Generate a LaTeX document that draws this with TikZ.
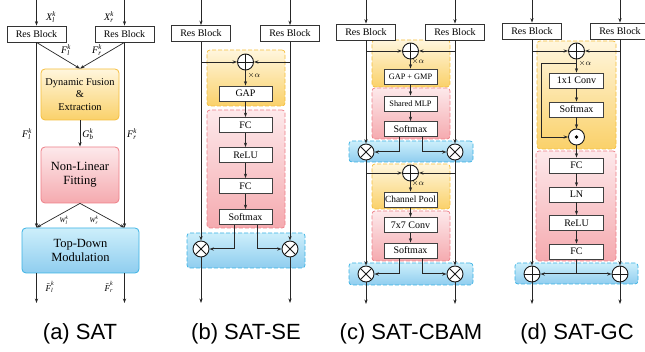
\documentclass[tikz,border=0pt]{standalone}
\usepackage{amsmath}
\usepackage{fontspec}
\setmainfont{Liberation Serif}
\newfontfamily\capfont{Liberation Sans}
\usetikzlibrary{arrows.meta}
\definecolor{yelB}{HTML}{F5BE3C}
\definecolor{yelT}{HTML}{FFF6DD}
\definecolor{yelD}{HTML}{FAD16A}
\definecolor{redB}{HTML}{EE7F88}
\definecolor{redT}{HTML}{FDE9EB}
\definecolor{redD}{HTML}{F5AAAF}
\definecolor{bluB}{HTML}{3AB2E4}
\definecolor{bluT}{HTML}{CDEFFB}
\definecolor{bluD}{HTML}{8FCDEF}
\newcommand\mv[3]{$\textit{#1}^{\textit{#3}}_{\textit{#2}}$}
\newcommand\mvt[3]{$\tilde{\textit{#1}}^{\textit{#3}}_{\textit{#2}}$}
\begin{document}
\begin{tikzpicture}[x=1pt,y=-1pt,
  ln/.style={line width=0.7pt, draw=black!85},
  arr/.style={ln, -{Stealth[length=4.5pt,width=3.2pt]}},
  resb/.style={draw=black!80, line width=0.8pt, fill=white, minimum width=59pt, minimum height=16pt, inner sep=0pt, font=\fontsize{10}{10}\selectfont},
  ib/.style={draw=black!75, line width=0.8pt, fill=white, minimum width=53pt, minimum height=15pt, inner sep=0pt, font=\fontsize{10}{10}\selectfont},
  bgbox/.style={rounded corners=3pt, line width=0.7pt, dash pattern=on 4pt off 2pt, inner sep=0pt},
  sy/.style={bgbox, draw=yelB, top color=yelT, bottom color=yelD},
  sr/.style={bgbox, draw=redB, top color=redT, bottom color=redD},
  sb/.style={bgbox, draw=bluB, top color=bluT, bottom color=bluD},
  abox/.style={rounded corners=4pt, line width=0.8pt, inner sep=0pt, align=center},
  lab/.style={inner sep=0pt, font=\fontsize{10}{10}\selectfont},
  slab/.style={inner sep=0pt, font=\fontsize{7}{7}\selectfont},
  alab/.style={inner sep=0pt, font=\fontsize{9}{9}\selectfont},
  opbase/.style={circle, draw=black!90, line width=0.9pt, fill=white, minimum size=16pt, inner sep=0pt},
  oplus/.style={opbase, path picture={\draw[line width=0.9pt] (path picture bounding box.north) -- (path picture bounding box.south) (path picture bounding box.west) -- (path picture bounding box.east);}},
  otimes/.style={opbase, path picture={\draw[line width=0.9pt] (path picture bounding box.north west) -- (path picture bounding box.south east) (path picture bounding box.south west) -- (path picture bounding box.north east);}},
  odot/.style={opbase, path picture={\fill[black] (path picture bounding box.center) circle (1.8pt);}},
  capt/.style={inner sep=0pt, anchor=base, font=\capfont\fontsize{22}{22}\selectfont}
]
\useasboundingbox (0,0) rectangle (645,352);
\clip (0,0) rectangle (645,352);

% ================= (a) SAT =================
\coordinate (ainl) at (36.5,0);
\coordinate (ainr) at (124.5,0);
\node[resb] (aresl) at (36.5,34) {Res Block};
\node[resb] (aresr) at (124.5,34) {Res Block};
\node[abox, draw=yelB, top color=yelT, bottom color=yelD, minimum width=78pt, minimum height=51pt, font=\fontsize{10.4}{12.5}\selectfont] (adfe) at (80,94.5) {Dynamic Fusion\\\&\\Extraction};
\node[abox, draw=redB, top color=redT, bottom color=redD, minimum width=78pt, minimum height=56pt, font=\fontsize{12.5}{14}\selectfont] (anlf) at (80,175) {Non-Linear\\Fitting};
\node[abox, draw=bluB, top color=bluT, bottom color=bluD, minimum width=117pt, minimum height=45pt, font=\fontsize{12.5}{14}\selectfont] (atd) at (80.5,250.5) {Top-Down\\Modulation};
\coordinate (aoutl) at (36.5,303);
\coordinate (aoutr) at (124.5,303);
\draw[arr] (ainl) -- (aresl);
\draw[arr] (ainr) -- (aresr);
\draw[arr] (aresl.south) -- (adfe.north);
\draw[arr] (aresr.south) -- (adfe.north);
\draw[arr] (adfe) -- (anlf);
\draw[arr] (aresl.south) -- (aresl.south |- atd.north);
\draw[arr] (aresr.south) -- (aresr.south |- atd.north);
\draw[arr] (anlf.south) -- (aresl.south |- atd.north);
\draw[arr] (anlf.south) -- (aresr.south |- atd.north);
\draw[arr] (aoutl |- atd.south) -- (aoutl);
\draw[arr] (aoutr |- atd.south) -- (aoutr);
\node[lab] (axl) at (51,17) {\mv{X}{l}{k}};
\node[lab] (axr) at (109,17) {\mv{X}{r}{k}};
\node[lab] (afl1) at (66,50) {\mv{F}{l}{k}};
\node[lab] (afr1) at (97,50) {\mv{F}{r}{k}};
\node[lab] (afl2) at (27,134) {\mv{F}{l}{k}};
\node[lab] (agb) at (88,134) {\mv{G}{b}{k}};
\node[lab] (afr2) at (132,134) {\mv{F}{r}{k}};
\node[slab] (awl) at (64,220) {\mv{W}{l}{k}};
\node[slab] (awr) at (94,220) {\mv{W}{r}{k}};
\node[alab] (aftl) at (50,287) {\mvt{F}{l}{k}};
\node[alab] (aftr) at (109,287) {\mvt{F}{r}{k}};
\node[capt] (capa) at (80,340) {(a) SAT};

% ================= (b) SAT-SE =================
\coordinate (binl) at (201,0);
\coordinate (binr) at (290,0);
\node[sy, minimum width=78pt, minimum height=56pt] (byel) at (246,78) {};
\node[sr, minimum width=78pt, minimum height=118pt] (bred) at (246,169) {};
\node[sb, minimum width=118pt, minimum height=35pt] (bblu) at (246,250.5) {};
\node[resb] (bresl) at (201,33.5) {Res Block};
\node[resb] (bresr) at (290,33.5) {Res Block};
\node[oplus] (bplus) at (245.5,62) {};
\node[ib] (bgap) at (245.5,93.5) {GAP};
\node[ib] (bfc1) at (245.5,125) {FC};
\node[ib] (brelu) at (245.5,155) {ReLU};
\node[ib] (bfc2) at (245.5,186) {FC};
\node[ib] (bsm) at (245.5,217) {Softmax};
\node[otimes] (botl) at (201,249) {};
\node[otimes] (botr) at (290,249) {};
\coordinate (boutl) at (201,303);
\coordinate (boutr) at (290,303);
\draw[arr] (binl) -- (bresl);
\draw[arr] (binr) -- (bresr);
\draw[arr] (bresl.south) -- (botl.north);
\draw[arr] (bresr.south) -- (botr.north);
\draw[arr] (bresl.south |- bplus) -- (bplus.west);
\draw[arr] (bresr.south |- bplus) -- (bplus.east);
\draw[arr] (bplus) -- (bgap);
\draw[arr] (bgap) -- (bfc1);
\draw[arr] (bfc1) -- (brelu);
\draw[arr] (brelu) -- (bfc2);
\draw[arr] (bfc2) -- (bsm);
\draw[arr, line width=1pt] ([xshift=-11pt]bsm.south) |- (botl.east);
\draw[arr, line width=1pt] ([xshift=12pt]bsm.south) |- (botr.west);
\draw[arr] (botl.south) -- (boutl);
\draw[arr] (botr.south) -- (boutr);
\node[slab, font=\fontsize{8}{8}\selectfont] (balpha) at (254,76) {$\times\alpha$};
\node[capt] (capb) at (246,340) {(b) SAT-SE};

% ================= (c) SAT-CBAM =================
\coordinate (cinl) at (366,0);
\coordinate (cinr) at (455,0);
\node[sy, minimum width=78pt, minimum height=47pt] (cyel1) at (411,63.5) {};
\node[sr, minimum width=78pt, minimum height=51pt] (cred1) at (411,113.5) {};
\node[sb, minimum width=124pt, minimum height=21pt] (cblu1) at (411,151.5) {};
\node[sy, minimum width=78pt, minimum height=45pt] (cyel2) at (411,186.5) {};
\node[sr, minimum width=78pt, minimum height=50pt] (cred2) at (411,236) {};
\node[sb, minimum width=124pt, minimum height=22pt] (cblu2) at (411,274) {};
\node[resb] (cresl) at (366,32) {Res Block};
\node[resb] (cresr) at (455,32) {Res Block};
\node[oplus] (cplus1) at (410.5,51) {};
\node[ib, font=\fontsize{8.3}{8.3}\selectfont] (cgap) at (410.5,76.5) {GAP + GMP};
\node[ib, font=\fontsize{8.3}{8.3}\selectfont] (cmlp) at (410.5,103.5) {Shared MLP};
\node[ib] (csm1) at (410.5,129) {Softmax};
\node[otimes] (cotl1) at (366,152) {};
\node[otimes] (cotr1) at (455,152) {};
\node[oplus] (cplus2) at (410.5,173) {};
\node[ib, font=\fontsize{9.4}{9.4}\selectfont] (cpool) at (410.5,199.5) {Channel Pool};
\node[ib] (cconv) at (410.5,225) {7x7 Conv};
\node[ib] (csm2) at (410.5,250.5) {Softmax};
\node[otimes] (cotl2) at (366,274) {};
\node[otimes] (cotr2) at (455,274) {};
\coordinate (coutl) at (366,304);
\coordinate (coutr) at (455,304);
\draw[arr] (cinl) -- (cresl);
\draw[arr] (cinr) -- (cresr);
\draw[arr] (cresl.south) -- (cotl1.north);
\draw[arr] (cresr.south) -- (cotr1.north);
\draw[arr] (cresl.south |- cplus1) -- (cplus1.west);
\draw[arr] (cresr.south |- cplus1) -- (cplus1.east);
\draw[arr] (cplus1) -- (cgap);
\draw[arr] (cgap) -- (cmlp);
\draw[arr] (cmlp) -- (csm1);
\draw[arr, line width=1pt] ([xshift=-11.5pt]csm1.south) |- (cotl1.east);
\draw[arr, line width=1pt] ([xshift=12pt]csm1.south) |- (cotr1.west);
\draw[arr] (cotl1.south) -- (cotl2.north);
\draw[arr] (cotr1.south) -- (cotr2.north);
\draw[arr] (cotl1.south |- cplus2) -- (cplus2.west);
\draw[arr] (cotr1.south |- cplus2) -- (cplus2.east);
\draw[arr] (cplus2) -- (cpool);
\draw[arr] (cpool) -- (cconv);
\draw[arr] (cconv) -- (csm2);
\draw[arr, line width=1pt] ([xshift=-11.5pt]csm2.south) |- (cotl2.east);
\draw[arr, line width=1pt] ([xshift=12pt]csm2.south) |- (cotr2.west);
\draw[arr] (cotl2.south) -- (coutl);
\draw[arr] (cotr2.south) -- (coutr);
\node[slab, font=\fontsize{8}{8}\selectfont] (calpha1) at (418,62) {$\times\alpha$};
\node[slab, font=\fontsize{8}{8}\selectfont] (calpha2) at (418,184) {$\times\alpha$};
\node[capt] (capc) at (411,340) {(c) SAT-CBAM};

% ================= (d) SAT-GC =================
\coordinate (dinl) at (532,0);
\coordinate (dinr) at (620,0);
\node[sy, minimum width=79pt, minimum height=108pt] (dyel) at (576.5,95) {};
\node[sr, minimum width=80pt, minimum height=110pt] (dred) at (576,206) {};
\node[sb, minimum width=123pt, minimum height=21pt] (dblu) at (576.5,273.5) {};
\node[resb] (dresl) at (532,31) {Res Block};
\node[resb] (dresr) at (620,31) {Res Block};
\node[oplus] (dplus) at (576.5,51) {};
\node[ib, minimum width=54pt] (dconv) at (576.5,80.5) {1x1 Conv};
\node[ib, minimum width=54pt] (dsm) at (576.5,109.5) {Softmax};
\node[odot] (ddot) at (576.5,137) {};
\node[ib, minimum width=54pt] (dfc1) at (576.5,165.5) {FC};
\node[ib, minimum width=54pt] (dln) at (576.5,194.5) {LN};
\node[ib, minimum width=54pt] (drelu) at (576.5,223) {ReLU};
\node[ib, minimum width=54pt] (dfc2) at (576.5,251.5) {FC};
\node[oplus] (dopl) at (532,274) {};
\node[oplus] (dopr) at (620,274) {};
\coordinate (dbr) at (576.5,63);
\coordinate (dsk) at (541,63);
\coordinate (doutl) at (532,304);
\coordinate (doutr) at (620,304);
\draw[arr] (dinl) -- (dresl);
\draw[arr] (dinr) -- (dresr);
\draw[arr] (dresl.south) -- (dopl.north);
\draw[arr] (dresr.south) -- (dopr.north);
\draw[arr] (dresl.south |- dplus) -- (dplus.west);
\draw[arr] (dresr.south |- dplus) -- (dplus.east);
\draw[arr] (dplus) -- (dconv);
\draw[arr] (dconv) -- (dsm);
\draw[arr] (dsm) -- (ddot);
\draw[arr] (dbr) -- (dsk) |- (ddot.west);
\draw[arr] (ddot) -- (dfc1);
\draw[arr] (dfc1) -- (dln);
\draw[arr] (dln) -- (drelu);
\draw[arr] (drelu) -- (dfc2);
\draw[ln, line width=1.3pt] (dfc2.south) -- (dfc2.south |- dopl);
\draw[arr, line width=1pt] (dfc2.south |- dopl) -- (dopl.east);
\draw[arr, line width=1pt] (dfc2.south |- dopl) -- (dopr.west);
\draw[arr] (dopl.south) -- (doutl);
\draw[arr] (dopr.south) -- (doutr);
\node[slab, font=\fontsize{8}{8}\selectfont] (dalpha) at (585,64) {$\times\alpha$};
\node[capt] (capd) at (577,340) {(d) SAT-GC};
\end{tikzpicture}
\end{document}
